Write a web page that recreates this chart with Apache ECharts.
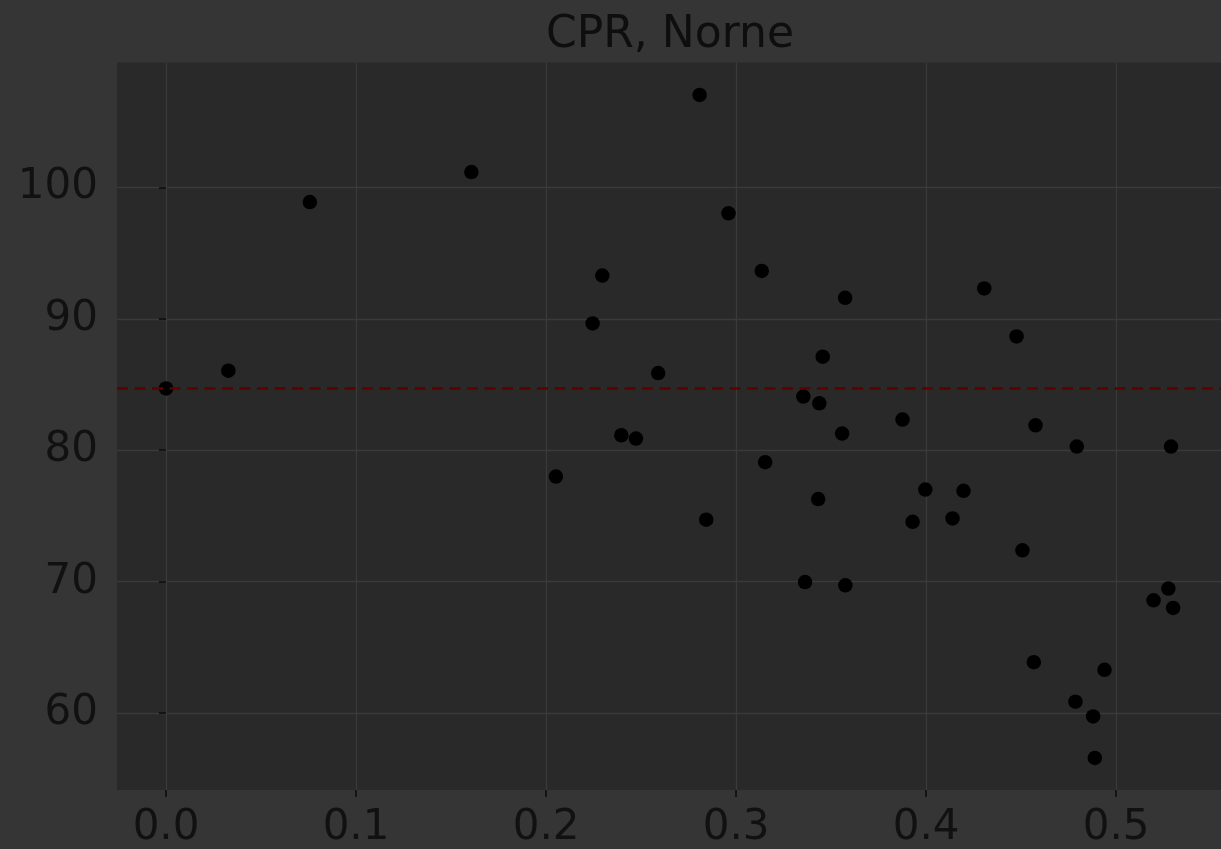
<!DOCTYPE html>
<html>
<head>
<meta charset="utf-8">
<script src="https://cdn.jsdelivr.net/npm/echarts@6/dist/echarts.min.js"></script>
<style>
html,body{margin:0;padding:0;background:#353535;}
#chart{width:1221px;height:849px;}
</style>
</head>
<body>
<div id="chart"></div>
<script>
const titleText = 'CPR, Norne';
const xValues = [0.000,0.0328,0.0757,0.1607,0.2052,0.2245,0.2296,0.2396,0.2473,0.2590,
  0.2808,0.2843,0.2960,0.3135,0.3153,0.3354,0.3363,0.3432,0.3438,0.3456,
  0.3558,0.3574,0.3575,0.3876,0.3929,0.3996,0.4139,0.4197,0.4306,0.4476,
  0.4507,0.4567,0.4576,0.4786,0.4793,0.4879,0.4888,0.4939,0.5197,0.5275,
  0.5289,0.5300];
const yValues = [84.70,86.05,98.89,101.17,78.00,89.65,93.29,81.14,80.89,85.87,
  107.04,74.71,98.03,93.65,79.09,84.08,69.97,76.28,83.57,87.12,
  81.27,91.60,69.72,82.33,74.55,77.01,74.81,76.91,92.31,88.66,
  72.38,63.87,81.90,60.86,80.28,59.74,56.58,63.29,68.58,69.47,
  80.28,68.00];
const baseline = 84.70;
const xTicks = [0.0,0.1,0.2,0.3,0.4,0.5];
const yTicks = [60,70,80,90,100];
const xRange = [-0.0258, 0.5552];
const yRange = [54.14, 109.51];

const points = xValues.map((x,i)=>[x,yValues[i]]);
const chart = echarts.init(document.getElementById('chart'));
const font = 'DejaVu Sans';
chart.setOption({
  backgroundColor:'#353535',
  animation:false,
  title:{text:titleText,left:665,textAlign:'center',top:9,
    textStyle:{fontFamily:font,fontSize:44,fontWeight:'normal',color:'#0e0e0e'}},
  grid:{left:117,top:62.5,width:1105,bottom:57.5,show:true,backgroundColor:'#292929',borderWidth:0},
  xAxis:{type:'value',min:xRange[0],max:xRange[1],
    axisLine:{show:false},
    axisTick:{show:true,length:7,lineStyle:{color:'#141414',width:2},customValues:xTicks},
    axisLabel:{customValues:xTicks,fontFamily:font,fontSize:42,color:'#111111',margin:17,
      formatter:v=>v.toFixed(1)},
    splitLine:{show:true,lineStyle:{color:'#3a3a3a',width:1.3}}},
  yAxis:{type:'value',min:yRange[0],max:yRange[1],
    axisLine:{show:false},
    axisTick:{show:true,length:7,lineStyle:{color:'#141414',width:2},customValues:yTicks},
    axisLabel:{customValues:yTicks,fontFamily:font,fontSize:42,color:'#111111',margin:19},
    splitLine:{show:true,lineStyle:{color:'#3a3a3a',width:1.3}}},
  series:[{type:'scatter',data:points,symbolSize:14.5,
    itemStyle:{color:'#000000',opacity:1},
    markLine:{silent:true,symbol:'none',label:{show:false},
      lineStyle:{color:'#5e0000',type:[11,6.5],width:2.6},
      data:[{yAxis:baseline}]},
    z:3}]
});
</script>
</body>
</html>
